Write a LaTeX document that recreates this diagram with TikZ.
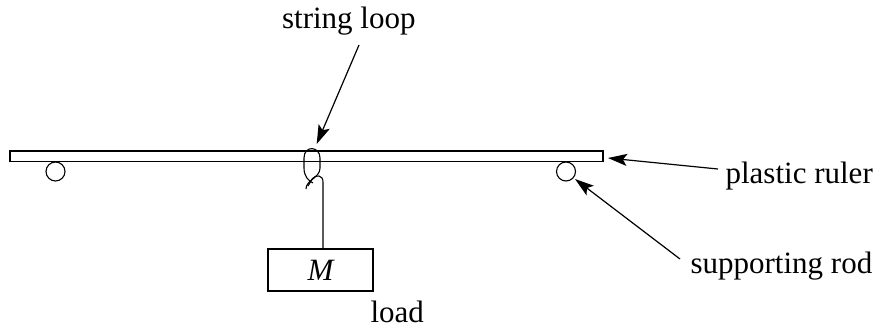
\documentclass[tikz,border=0pt]{standalone}
\usepackage{fontspec}
\setmainfont{Liberation Serif}
\usetikzlibrary{arrows.meta}
\begin{document}
\begin{tikzpicture}[x=1pt,y=-1pt,
  line width=1.2pt,
  lbl/.style={font=\fontsize{31}{36}\selectfont, inner sep=0pt, anchor=base west},
  arr/.style={-{Stealth[length=19pt,width=12pt,inset=4pt]}, line width=1.2pt},
  rod/.style={circle, draw, minimum size=19pt, inner sep=0pt},
  thin/.style={line width=1.1pt}]
\useasboundingbox (0,0) rectangle (880,327);
% ruler
\node[draw, thin, minimum width=593pt, minimum height=10.5pt, inner sep=0pt] (ruler) at (306.5,156.2) {};
% rods
\node[rod, thin] (rodL) at (55.5,171.5) {};
\node[rod, thin] (rodR) at (566,171.5) {};
% load box
\node[draw, thin, minimum width=105pt, minimum height=42pt, inner sep=0pt] (box) at (320.5,270) {\fontsize{31}{36}\selectfont\itshape M};
% string
\coordinate (strtop) at (323,182);
\draw[thin] (box.north -| strtop) -- (strtop) .. controls (323,175) and (316,174) .. (312,179) .. controls (310,182) and (309,185) .. (308,186);
\draw[thin] (306,189) .. controls (306,180) and (320,178) .. (320,168) -- (320,158) .. controls (320,146) and (304,145) .. (304,158) -- (304,168) .. controls (304,177) and (309,181) .. (313,183);
% labels
\node[lbl] (tloop) at (281.5,28) {string loop};
\node[lbl] (truler) at (725,183) {plastic ruler};
\node[lbl] (trod) at (690,273) {supporting rod};
\node[lbl] (tload) at (370,322) {load};
% arrows
\coordinate (aloop) at (359,45);
\coordinate (tiploop) at (316.7,144);
\coordinate (aruler) at (718,169);
\coordinate (tipruler) at (608,158);
\coordinate (arod) at (680,259);
\coordinate (tiprod) at (575,179);
\draw[arr] (aloop) -- (tiploop);
\draw[arr] (aruler) -- (tipruler);
\draw[arr] (arod) -- (tiprod);
\end{tikzpicture}
\end{document}
